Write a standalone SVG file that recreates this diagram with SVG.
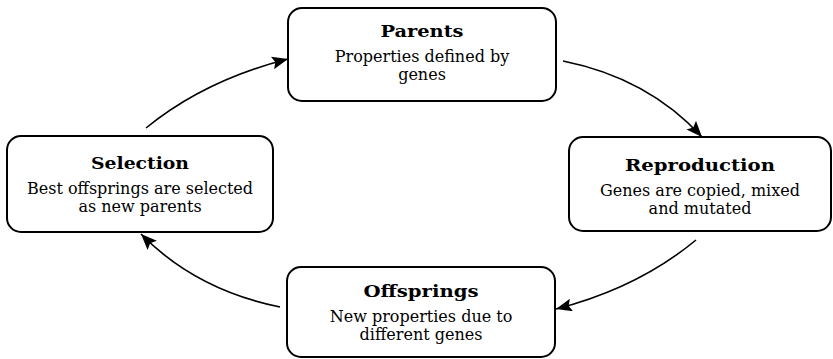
<svg xmlns="http://www.w3.org/2000/svg" width="833" height="359" viewBox="0 0 833 359">
<style>
.box{fill:#fff;stroke:#000;stroke-width:2}
.t{font-family:"DejaVu Serif","Liberation Serif",serif;font-size:16px;fill:#000;text-anchor:middle}
.b{font-weight:bold;font-size:16px}
.c{fill:none;stroke:#000;stroke-width:1.6}
</style>
<defs>
<marker id="ah" markerUnits="userSpaceOnUse" markerWidth="20" markerHeight="16" refX="16" refY="6.5" orient="auto">
<path d="M0,0 L16,6.5 L0,13 L3,6.5 Z" fill="#000"/>
</marker>
</defs>
<g id="connectors">
<path class="c" d="M146,128 Q205,80 288,59" marker-end="url(#ah)"/>
<path class="c" d="M563,61 Q648,78 702,137" marker-end="url(#ah)"/>
<path class="c" d="M696,240 Q638,288 556,309" marker-end="url(#ah)"/>
<path class="c" d="M280,307 Q196,290 141,234" marker-end="url(#ah)"/>
</g>
<g id="parents">
<rect class="box" x="288" y="8" width="268" height="93" rx="14"/>
<text class="t b" x="422" y="37" textLength="83" lengthAdjust="spacingAndGlyphs">Parents</text>
<text class="t" x="422" y="62">Properties defined by</text>
<text class="t" x="422" y="80">genes</text>
</g>
<g id="selection">
<rect class="box" x="7" y="136" width="266" height="96" rx="14"/>
<text class="t b" x="140" y="169" textLength="98" lengthAdjust="spacingAndGlyphs">Selection</text>
<text class="t" x="140" y="194">Best offsprings are selected</text>
<text class="t" x="140" y="212">as new parents</text>
</g>
<g id="reproduction">
<rect class="box" x="569" y="137" width="262" height="94" rx="14"/>
<text class="t b" x="700" y="171" textLength="150" lengthAdjust="spacingAndGlyphs">Reproduction</text>
<text class="t" x="700" y="196">Genes are copied, mixed</text>
<text class="t" x="700" y="214">and mutated</text>
</g>
<g id="offsprings">
<rect class="box" x="287" y="267" width="268" height="90" rx="14"/>
<text class="t b" x="421" y="297" textLength="115" lengthAdjust="spacingAndGlyphs">Offsprings</text>
<text class="t" x="421" y="322">New properties due to</text>
<text class="t" x="421" y="340">different genes</text>
</g>
</svg>
